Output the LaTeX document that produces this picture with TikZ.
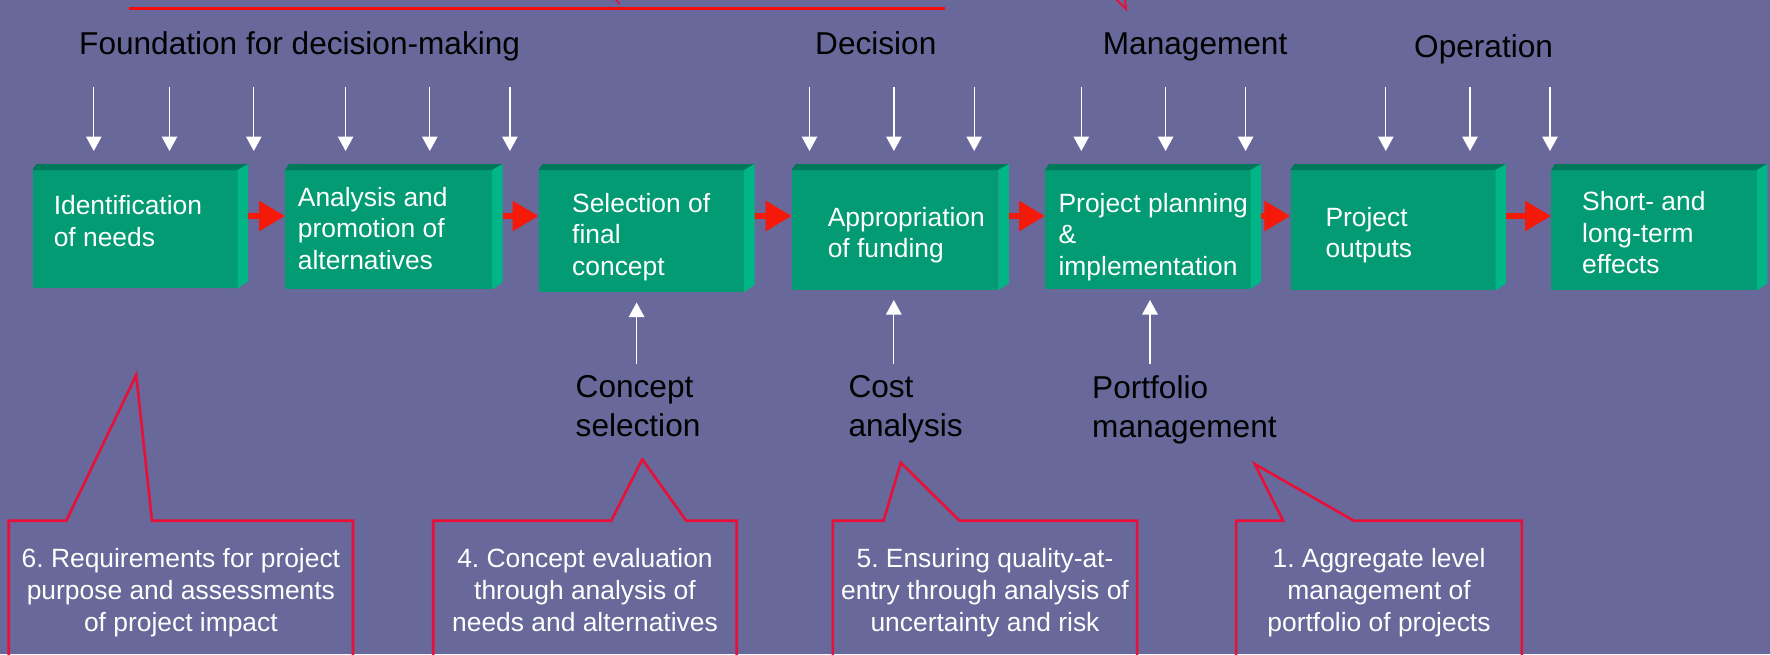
\documentclass[tikz,border=0pt]{standalone}
\usepackage{fontspec}
\setmainfont{Liberation Sans}
\usetikzlibrary{arrows.meta,calc}
\definecolor{bg}{RGB}{104,104,154}
\definecolor{gfront}{RGB}{2,155,115}
\definecolor{gtop}{RGB}{0,120,90}
\definecolor{gside}{RGB}{0,182,134}
\definecolor{rarr}{RGB}{245,25,10}
\definecolor{callred}{RGB}{232,16,56}
\definecolor{topred}{RGB}{245,12,12}
\frenchspacing
\tikzset{
 frontface/.style={fill=gfront, draw=none, inner sep=0, anchor=north west},
 boxtext/.style={text=white, font=\fontsize{26.4}{31.7}\selectfont, align=left, anchor=north west, inner sep=0},
 headtext/.style={text=black, font=\fontsize{31.6}{38.4}\selectfont, anchor=base west, inner sep=0},
 labeltext/.style={text=black, font=\fontsize{31.6}{39}\selectfont, align=left, anchor=north west, inner sep=0},
 calltext/.style={text=white, font=\fontsize{26.4}{32}\selectfont, align=center, anchor=north, inner sep=0},
 callout/.style={draw=callred, line width=2.6pt, line join=miter},
 warrow/.style={draw=white, line width=1.3pt, -{Triangle[length=14.5pt,width=15.5pt]}},
 rarrow/.style={draw=rarr, line width=6pt, -{Triangle[length=26pt,width=29pt]}},
}
\newcommand\gbox[4]{% name, x, width, height
 \node[frontface, minimum width=#3pt, minimum height=#4pt] (#1) at (#2,170) {};
 \fill[gtop] (#1.north west) -- (#1.north east) -- ++(10.5,-6) -- ([xshift=4pt,yshift=6pt]#1.north west) -- cycle;
 \fill[gside] (#1.north east) -- ++(10.5,-6) -- ([xshift=10.5pt,yshift=7pt]#1.south east) -- (#1.south east) -- cycle;
}
\begin{document}
\begin{tikzpicture}[x=1pt,y=-1pt]
\clip (0,0) rectangle (1770,654);
\fill[bg] (0,0) rectangle (1770,654);

% top remnants
\draw[topred, line width=3pt] (129,8) -- (945,8);
\draw[callred, line width=1.5pt] (615,-1) -- (619.5,4);
\draw[callred, line width=2pt] (1116,-1) -- (1126,9) -- (1125,-1);

% headers
\node[headtext] (h1) at (79,54.5) {Foundation for decision-making};
\node[headtext] (h2) at (815,54.5) {Decision};
\node[headtext] (h3) at (1102.7,54.5) {Management};
\node[headtext] (h4) at (1414,57) {Operation};

% down arrows
\foreach \x in {93.8,169.5,253.8,345.6,429.8,509.9,809.5,893.9,974.2,1081.3,1165.6,1245.6,1385.8,1470,1550}
  \draw[warrow] (\x,87) -- (\x,151);

% boxes
\gbox{b1}{32.5}{204.8}{118}
\gbox{b2}{285}{206.8}{119}
\gbox{b3}{538.5}{205.3}{121.5}
\gbox{b4}{791.6}{206.3}{120}
\gbox{b5}{1045}{205.3}{118.3}
\gbox{b6}{1290.3}{205}{120}
\gbox{b7}{1551}{205.4}{120}

\foreach \a/\b in {b1/b2,b2/b3,b3/b4,b4/b5,b5/b6,b6/b7}
  \draw[rarrow] ([xshift=10.5pt,yshift=-46pt]\a.north east) -- ([yshift=-46pt]\b.north west);

% box texts
\node[boxtext] (t1) at (53.6,195) {Identification\\of needs};
\node[boxtext] (t2) at (297.7,186.7) {Analysis and\\promotion of\\alternatives};
\node[boxtext] (t3) at (572,192.7) {Selection of\\final\\concept};
\node[boxtext] (t4) at (827.6,206.7) {Appropriation\\of funding};
\node[boxtext] (t5) at (1058.4,192.7) {Project planning\\\&\\implementation};
\node[boxtext] (t6) at (1325.3,206.7) {Project\\outputs};
\node[boxtext] (t7) at (1582,191) {Short- and\\long-term\\effects};

% lower labels
\node[labeltext] (l1) at (575.5,375) {Concept\\selection};
\node[labeltext] (l2) at (848.3,375) {Cost\\analysis};
\node[labeltext] (l3) at (1092,375) {Portfolio\\management};

\draw[warrow] (636.6,364) -- (636.6,302.5);
\draw[warrow] (893.8,364) -- (893.8,300);
\draw[warrow] (1150,364) -- (1150,300);

% callouts
\draw[callout] (8.7,680) -- (8.7,520.7) -- (66.3,520.7) -- (136.2,375) -- (152,520.7) -- (353,520.7) -- (353,680);
\draw[callout] (433.2,680) -- (433.2,520.7) -- (611.2,520.7) -- (642.3,459.3) -- (686.2,520.7) -- (736.7,520.7) -- (736.7,680);
\draw[callout] (832.8,680) -- (832.8,520.7) -- (883.5,520.7) -- (900.8,462.7) -- (959.6,520.7) -- (1137.1,520.7) -- (1137.1,680);
\draw[callout] (1236.1,680) -- (1236.1,520.7) -- (1283.1,520.7) -- (1254.7,464) -- (1353.7,520.7) -- (1521.9,520.7) -- (1521.9,680);

\node[calltext] (c1) at (180.9,548) {6. Requirements for project\\purpose and assessments\\of project impact};
\node[calltext] (c2) at (585,548) {4. Concept evaluation\\through analysis of\\needs and alternatives};
\node[calltext] (c3) at (985,548) {5. Ensuring quality-at-\\entry through analysis of\\uncertainty and risk};
\node[calltext] (c4) at (1379,548) {1. Aggregate level\\management of\\portfolio of projects};
\end{tikzpicture}
\end{document}
